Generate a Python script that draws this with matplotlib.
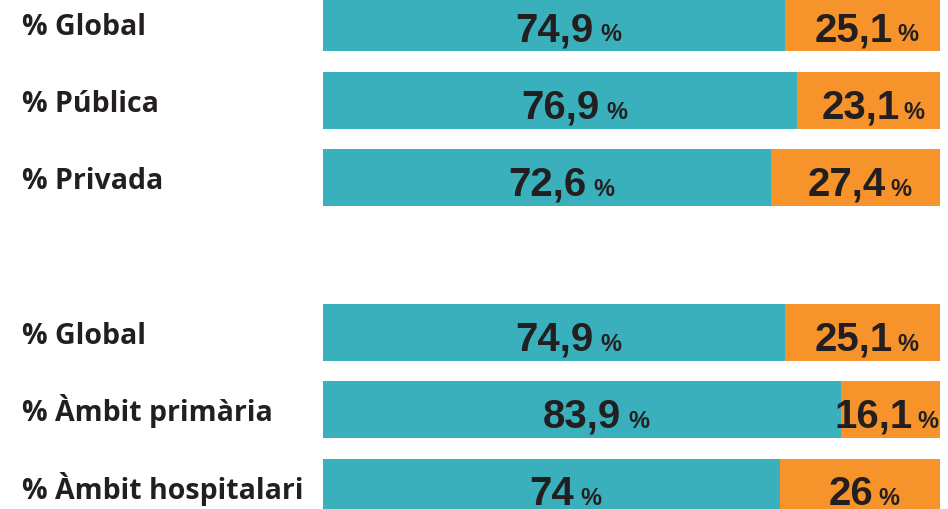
import matplotlib.pyplot as plt
import numpy as np

labels = ["% Global", "% Pública", "% Privada",
          "% Global", "% Àmbit primària", "% Àmbit hospitalari"]
teal_vals = [74.9, 76.9, 72.6, 74.9, 83.9, 74]
orange_vals = [25.1, 23.1, 27.4, 25.1, 16.1, 26]
rows = [0, 1, 2, 4, 5, 6]

TEAL = "#39b0bc"
ORANGE = "#f7932b"
INK = "#231f20"


def fmt(v):
    s = f"{v:.1f}".replace(".", ",")
    return s[:-2] if s.endswith(",0") else s


fig = plt.figure(figsize=(9.48, 5.10), dpi=100)
ax = fig.add_axes((323 / 948, 0, 617 / 948, 1))
ax.set_xlim(0, 100)
ax.set_ylim(6.285, -0.31)
ax.axis("off")

height = 0.73
ax.barh(rows, teal_vals, height=height, color=TEAL, linewidth=0)
ax.barh(rows, orange_vals, left=teal_vals, height=height, color=ORANGE, linewidth=0)

base_off = -12.5  # points from bar centre down to the digit baseline
pairs = []
for y, lab, t, o in zip(rows, labels, teal_vals, orange_vals):
    ax.annotate(lab, xy=(0, y), xycoords=("figure fraction", "data"),
                xytext=(16, -7.6), textcoords="offset points",
                ha="left", va="baseline", fontsize=20.5, fontweight="bold",
                family="Open Sans", color=INK)
    for left, w, dx, gap in ((0, t, 0, 5), (t, o, -6, 3)):
        num = ax.annotate(fmt(w), xy=(left + w / 2, y), xytext=(dx, base_off),
                          textcoords="offset points", ha="center", va="baseline",
                          fontsize=29, fontweight="bold",
                          family="Liberation Sans", color=INK)
        pct = ax.annotate("%", xy=(1, y), xycoords=(num, "data"), xytext=(gap, base_off),
                          textcoords="offset points", ha="left", va="baseline",
                          fontsize=17, fontweight="bold",
                          family="Liberation Sans", color=INK)
        pairs.append((num, pct))

# keep labels inside the bar when the segment is narrow
fig.canvas.draw()
renderer = fig.canvas.get_renderer()
limit = ax.bbox.x1 - 2
for num, pct in pairs:
    over = pct.get_window_extent(renderer).x1 - limit
    if over > 0:
        x, yy = num.xyann
        num.xyann = (x - over * 72 / fig.dpi, yy)

fig.savefig("out.png", dpi=100)
